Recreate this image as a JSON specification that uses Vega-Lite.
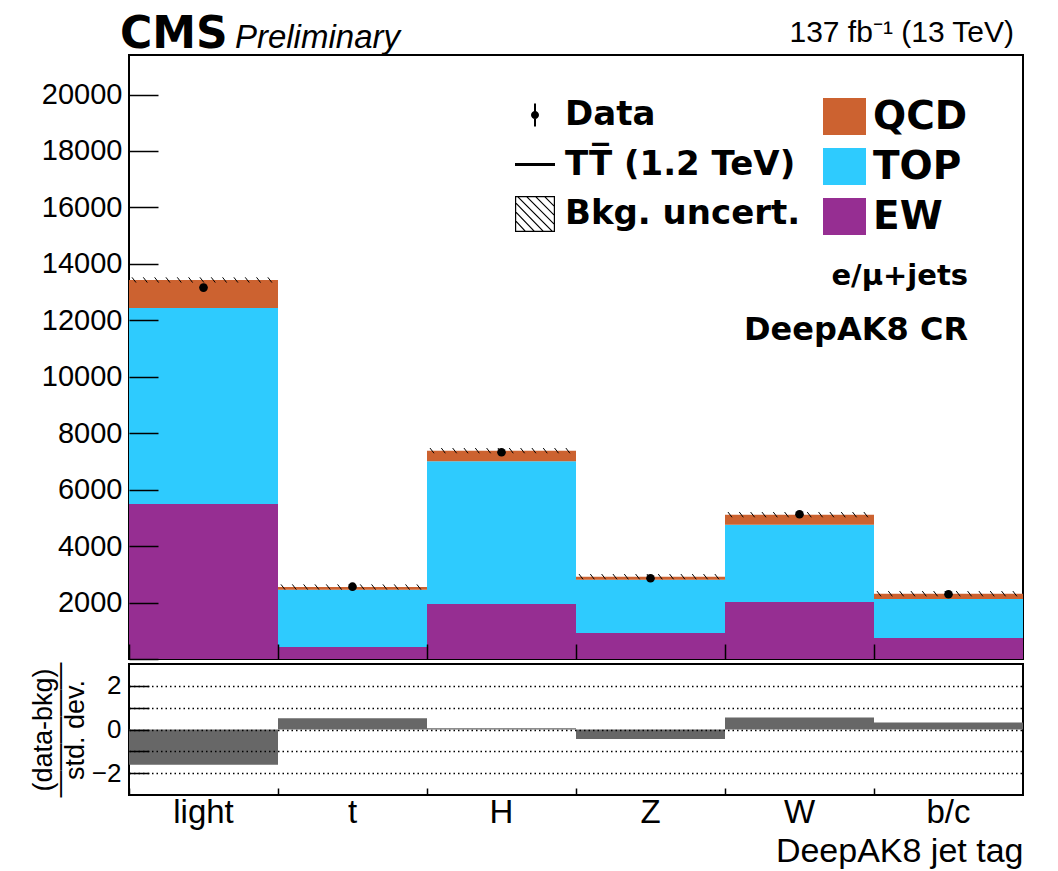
{
  "$schema": "https://vega.github.io/schema/vega-lite/v6.json",
  "background": "white",
  "padding": {"left": 28, "top": 11, "right": 5, "bottom": 5},
  "spacing": 0,
  "config": {
    "view": {"stroke": "black", "strokeWidth": 2},
    "font": "Liberation Sans",
    "axis": {"labelFont": "Liberation Sans", "titleFont": "Liberation Sans", "labelColor": "black", "titleColor": "black", "domainColor": "black", "tickColor": "black", "titleFontWeight": "normal"}
  },
  "datasets": {
    "stack": [
      {"bin": "light", "process": "EW", "rank": 1, "value": 5493},
      {"bin": "light", "process": "TOP", "rank": 2, "value": 6945},
      {"bin": "light", "process": "QCD", "rank": 3, "value": 992},
      {"bin": "t", "process": "EW", "rank": 1, "value": 425},
      {"bin": "t", "process": "TOP", "rank": 2, "value": 2031},
      {"bin": "t", "process": "QCD", "rank": 3, "value": 95},
      {"bin": "H", "process": "EW", "rank": 1, "value": 1949},
      {"bin": "H", "process": "TOP", "rank": 2, "value": 5057},
      {"bin": "H", "process": "QCD", "rank": 3, "value": 376},
      {"bin": "Z", "process": "EW", "rank": 1, "value": 921},
      {"bin": "Z", "process": "TOP", "rank": 2, "value": 1889},
      {"bin": "Z", "process": "QCD", "rank": 3, "value": 107},
      {"bin": "W", "process": "EW", "rank": 1, "value": 2020},
      {"bin": "W", "process": "TOP", "rank": 2, "value": 2739},
      {"bin": "W", "process": "QCD", "rank": 3, "value": 355},
      {"bin": "b/c", "process": "EW", "rank": 1, "value": 744},
      {"bin": "b/c", "process": "TOP", "rank": 2, "value": 1382},
      {"bin": "b/c", "process": "QCD", "rank": 3, "value": 188}
    ],
    "obs": [
      {"bin": "light", "data": 13160},
      {"bin": "t", "data": 2562},
      {"bin": "H", "data": 7325},
      {"bin": "Z", "data": 2860},
      {"bin": "W", "data": 5127},
      {"bin": "b/c", "data": 2293}
    ],
    "pull": [
      {"bin": "light", "pull": -1.61},
      {"bin": "t", "pull": 0.51},
      {"bin": "H", "pull": 0.06},
      {"bin": "Z", "pull": -0.44},
      {"bin": "W", "pull": 0.55},
      {"bin": "b/c", "pull": 0.32}
    ]
  },
  "vconcat": [
    {
      "width": 894,
      "height": 604,
      "layer": [
        {
          "data": {"name": "stack"},
          "mark": {"type": "bar"},
          "encoding": {
            "x": {"field": "bin", "type": "nominal", "sort": ["light", "t", "H", "Z", "W", "b/c"],
                  "scale": {"paddingInner": 0, "paddingOuter": 0},
                  "axis": {"title": null, "labels": false, "bandPosition": 0, "tickSize": -15, "tickWidth": 1.5, "domain": false, "zindex": 1}},
            "y": {"field": "value", "type": "quantitative", "aggregate": "sum", "stack": "zero",
                  "scale": {"domain": [0, 21400], "nice": false, "zero": true},
                  "axis": {"title": null, "values": [0,500,1000,1500,2000,2500,3000,3500,4000,4500,5000,5500,6000,6500,7000,7500,8000,8500,9000,9500,10000,10500,11000,11500,12000,12500,13000,13500,14000,14500,15000,15500,16000,16500,17000,17500,18000,18500,19000,19500,20000,20500,21000],
                           "labelExpr": "datum.value % 2000 === 0 && datum.value > 0 ? datum.value : ''",
                           "labelFontSize": 29, "labelPadding": 36, "domain": false, "zindex": 1, "grid": false, "tickWidth": 1.5,
                           "tickSize": {"condition": {"test": "datum.value % 2000 === 0", "value": -29}, "value": -14}}},
            "color": {"field": "process", "type": "nominal",
                      "scale": {"domain": ["QCD", "TOP", "EW"], "range": ["#cc6230", "#2ecbfe", "#962e92"]},
                      "legend": {"title": null, "orient": "none", "legendX": 694, "legendY": 40, "padding": 0,
                                 "labelFont": "DejaVu Sans", "labelFontWeight": "bold", "labelFontSize": 39, "labelColor": "black", "labelLimit": 0,
                                 "symbolType": "M-1,-0.86H1V0.86H-1Z", "symbolSize": 1849, "symbolStrokeWidth": 0, "symbolOpacity": 1,
                                 "labelOffset": 7, "rowPadding": 8}},
            "order": {"field": "rank", "type": "quantitative"}
          }
        },
        {
          "data": {"name": "stack"},
          "transform": [{"aggregate": [{"op": "sum", "field": "value", "as": "total"}], "groupby": ["bin"]}],
          "mark": {"type": "point", "filled": false, "stroke": "black", "strokeWidth": 1, "size": 22201, "opacity": 1,
                   "shape": "M-0.96,-0.035L-0.906,0.035M-0.808,-0.035L-0.754,0.035M-0.656,-0.035L-0.602,0.035M-0.504,-0.035L-0.45,0.035M-0.352,-0.035L-0.298,0.035M-0.2,-0.035L-0.146,0.035M-0.048,-0.035L0.006,0.035M0.104,-0.035L0.158,0.035M0.256,-0.035L0.31,0.035M0.408,-0.035L0.462,0.035M0.56,-0.035L0.614,0.035M0.712,-0.035L0.766,0.035M0.864,-0.035L0.918,0.035"},
          "encoding": {
            "x": {"field": "bin", "type": "nominal", "sort": ["light", "t", "H", "Z", "W", "b/c"]},
            "y": {"field": "total", "type": "quantitative"}
          }
        },
        {
          "data": {"name": "obs"},
          "mark": {"type": "point", "filled": true, "color": "black", "size": 100, "opacity": 0},
          "encoding": {
            "x": {"field": "bin", "type": "nominal", "sort": ["light", "t", "H", "Z", "W", "b/c"]},
            "y": {"field": "data", "type": "quantitative"},
            "shape": {"datum": "Data",
                      "scale": {"domain": ["Data", "TT̅ (1.2 TeV)", "Bkg. uncert."],
                                "range": ["M-0.05,-0.58H0.05V0.58H-0.05ZM0.2,0A0.2,0.2 0 1 1 -0.2,0A0.2,0.2 0 1 1 0.2,0Z",
                                          "M-1,-0.07H1V0.07H-1Z",
                                          "M-1,-0.9H1V0.9H-1ZM-0.94,-0.84L-0.94,0.84L0.94,0.84L0.94,-0.84ZM-0.94,-0.9L-0.86,-0.9L0.94,0.9L0.86,0.9ZM-1,-0.55L-0.92,-0.55L0.49,0.9L0.41,0.9ZM-1,-0.1L-0.92,-0.1L0.04,0.9L-0.04,0.9ZM-1,0.35L-0.92,0.35L-0.41,0.9L-0.49,0.9ZM-0.49,-0.9L-0.41,-0.9L1,0.51L1,0.59ZM-0.04,-0.9L0.04,-0.9L1,0.06L1,0.14ZM0.41,-0.9L0.49,-0.9L1,-0.39L1,-0.31Z"]},
                      "legend": {"title": null, "orient": "none", "legendX": 386, "legendY": 40, "padding": 0,
                                 "labelFont": "DejaVu Sans", "labelFontWeight": "bold", "labelFontSize": 34, "labelColor": "black", "labelLimit": 0,
                                 "symbolSize": 1600, "symbolOpacity": 1, "symbolFillColor": "black", "symbolStrokeWidth": 0,
                                 "labelOffset": 10, "rowPadding": 12.5}}
          }
        },
        {
          "data": {"name": "obs"},
          "mark": {"type": "circle", "color": "black", "size": 75, "opacity": 1},
          "encoding": {
            "x": {"field": "bin", "type": "nominal", "sort": ["light", "t", "H", "Z", "W", "b/c"]},
            "y": {"field": "data", "type": "quantitative"}
          }
        },
        {
          "data": {"values": [{}]},
          "mark": {"type": "text", "text": "CMS", "font": "DejaVu Sans", "fontWeight": "bold", "fontSize": 44, "align": "left", "baseline": "alphabetic", "dx": -9},
          "encoding": {"x": {"datum": "light", "bandPosition": 0}, "y": {"datum": 21650}}
        },
        {
          "data": {"values": [{}]},
          "mark": {"type": "text", "text": "Preliminary", "font": "Liberation Sans", "fontStyle": "italic", "fontSize": 33, "align": "left", "baseline": "alphabetic"},
          "encoding": {"x": {"datum": "light", "bandPosition": 0.711}, "y": {"datum": 21650}}
        },
        {
          "data": {"values": [{}]},
          "mark": {"type": "text", "text": "137 fb⁻¹ (13 TeV)", "font": "Liberation Sans", "fontSize": 30, "align": "right", "baseline": "alphabetic"},
          "encoding": {"x": {"datum": "b/c", "bandPosition": 0.94}, "y": {"datum": 21862}}
        },
        {
          "data": {"values": [{}]},
          "mark": {"type": "text", "text": "e/μ+jets", "font": "DejaVu Sans", "fontWeight": "bold", "fontSize": 29, "align": "right", "baseline": "alphabetic"},
          "encoding": {"x": {"datum": "b/c", "bandPosition": 0.631}, "y": {"datum": 13252}}
        },
        {
          "data": {"values": [{}]},
          "mark": {"type": "text", "text": "DeepAK8 CR", "font": "DejaVu Sans", "fontWeight": "bold", "fontSize": 32, "align": "right", "baseline": "alphabetic"},
          "encoding": {"x": {"datum": "b/c", "bandPosition": 0.631}, "y": {"datum": 11303}}
        }
      ]
    },
    {
      "width": 894,
      "height": 131,
      "data": {"name": "pull"},
      "mark": {"type": "bar", "color": "#676767"},
      "encoding": {
        "x": {"field": "bin", "type": "nominal", "sort": ["light", "t", "H", "Z", "W", "b/c"],
              "scale": {"paddingInner": 0, "paddingOuter": 0},
              "axis": {"title": "DeepAK8 jet tag", "titleAnchor": "end", "titleFontSize": 34, "titlePadding": 5,
                       "labelAngle": 0, "labelFontSize": 33, "labelPadding": 8, "bandPosition": 0,
                       "tickSize": -7, "tickWidth": 1.5, "domain": false, "zindex": 1}},
        "y": {"field": "pull", "type": "quantitative",
              "scale": {"domain": [-3, 3], "nice": false},
              "axis": {"title": ["(data-bkg)", "—————", "std. dev."], "titleFontSize": 27, "titlePadding": 2, "titleLineHeight": 16,
                       "values": [-2, -1, 0, 1, 2], "labelFontSize": 26, "labelPadding": 28, "format": "d",
                       "tickSize": -20, "tickWidth": 1.5, "domain": false, "zindex": 1,
                       "grid": true, "gridColor": "black", "gridDash": [1.5, 3], "gridWidth": 1.3, "gridOpacity": 1}}
      }
    }
  ]
}
